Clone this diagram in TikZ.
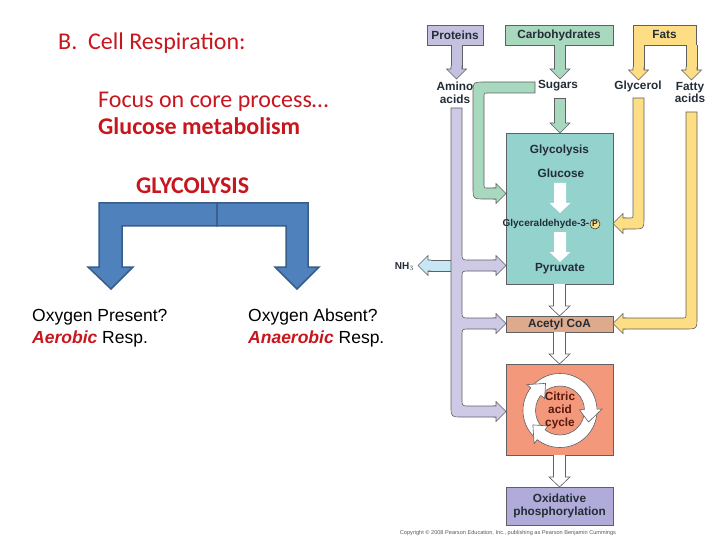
\documentclass[tikz,border=0pt]{standalone}
\usepackage{fontspec}
\setmainfont{Carlito}
\newfontfamily\arialf{Liberation Sans}
\usetikzlibrary{calc}
\definecolor{titlered}{RGB}{200,22,30}
\definecolor{bluefill}{RGB}{79,129,189}
\definecolor{blueline}{RGB}{56,93,138}
\definecolor{outlc}{RGB}{95,95,100}
\definecolor{labc}{RGB}{35,45,55}
\definecolor{purp}{RGB}{206,202,230}
\definecolor{protc}{RGB}{196,192,224}
\definecolor{grn}{RGB}{168,216,190}
\definecolor{yel}{RGB}{253,222,132}
\definecolor{tealc}{RGB}{148,210,206}
\definecolor{nhb}{RGB}{198,231,243}
\definecolor{tanc}{RGB}{222,170,140}
\definecolor{salm}{RGB}{243,152,122}
\definecolor{oxp}{RGB}{177,171,217}
\definecolor{cyctext}{RGB}{90,25,15}
\definecolor{pyel}{RGB}{247,224,138}
\newcommand\bhead[4]{%
  \begin{scope}[shift={(#1,#2)},rotate=#3]
    \fill[#4] (-13,-5.5)--(-10,-5.5)--(-10,-10)--(0,0)--(-10,10)--(-10,5.5)--(-13,5.5)--cycle;
    \draw[outl] (-13,-5.5)--(-10,-5.5)--(-10,-10)--(0,0)--(-10,10)--(-10,5.5)--(-13,5.5);
  \end{scope}}
\newcommand\warrow[4]{%
  \filldraw[#4] (#1-6,#2) -- (#1-6,#3-10) -- (#1-10.5,#3-10) -- (#1,#3) -- (#1+10.5,#3-10) -- (#1+6,#3-10) -- (#1+6,#2);}
\newcommand\chead[1]{%
  \fill[white] (#1:42) -- (#1+24:30.75) -- (#1:19.5) -- cycle;
  \draw[outl] (#1:37) -- (#1:42) -- (#1+24:30.75) -- (#1:19.5) -- (#1:24.5);}
\begin{document}
\begin{tikzpicture}[x=1pt,y=-1pt,
  outl/.style={draw=outlc,line width=0.6pt},
  lbl/.style={font=\arialf\bfseries\fontsize{11.8}{13}\selectfont,text=labc,inner sep=0pt,align=center},
  box/.style={draw=outlc,line width=0.6pt,inner sep=0pt},
  redtxt/.style={anchor=base west,inner sep=0pt,text=titlered,font=\fontsize{24}{28}\selectfont},
  oxtxt/.style={anchor=base west,inner sep=0pt,font=\arialf\fontsize{17.5}{20}\selectfont},
  bluearrow/.style={fill=bluefill,draw=blueline,line width=1.5pt,line join=miter}
]
\useasboundingbox (0,0) rectangle (720,540);

% ---------- left part ----------
\node[redtxt] (title) at (58,50) {B.\ \ Cell Respiration:};
\node[redtxt] (focus) at (98,108) {Focus on core process…};
\node[redtxt,font=\bfseries\fontsize{24}{28}\selectfont] (glucose) at (98,135) {Glucose metabolism};
\node[redtxt,font=\bfseries\fontsize{24}{28}\selectfont] (glyco) at (136,194) {GLYCOLYSIS};

\filldraw[bluearrow] (217,203) -- (99,203) -- (99,267) -- (88,267) -- (111,289) -- (133,267) -- (122,267) -- (122,226) -- (217,226) -- cycle;
\filldraw[bluearrow] (217,203) -- (308,203) -- (308,267) -- (319,267) -- (297,289) -- (275,267) -- (286,267) -- (286,226) -- (217,226) -- cycle;

\node[oxtxt] (opres) at (32,321) {Oxygen Present?};
\node[oxtxt] (aero) at (32,343) {\textcolor{titlered}{\bfseries\itshape Aerobic} Resp.};
\node[oxtxt] (oabs) at (248,321) {Oxygen Absent?};
\node[oxtxt] (anaero) at (248,343) {\textcolor{titlered}{\bfseries\itshape Anaerobic} Resp.};

% ---------- right part: boxes ----------
\node[box,lbl,fill=protc,minimum width=56pt,minimum height=20pt] (proteins) at (455,35) {Proteins};
\node[box,lbl,fill=grn,minimum width=108pt,minimum height=20pt] (carbs) at (559,35) {Carbohydrates};
\node[box,lbl,fill=yel,minimum width=63pt,minimum height=20pt] (fats) at (664.5,35) {Fats};

\node[box,fill=tealc,minimum width=107pt,minimum height=151pt] (glybox) at (559.5,208.5) {};
\node[box,lbl,fill=tanc,minimum width=107pt,minimum height=16pt] (acetyl) at (559.5,324) {Acetyl CoA};
\node[box,fill=salm,minimum width=107pt,minimum height=91pt] (citbox) at (559.5,409.5) {};
\node[box,lbl,fill=oxp,minimum width=107pt,minimum height=38pt] (oxph) at (559.5,506) {Oxidative\\phosphorylation};

\node[lbl] (amino) at (455,92.5) {Amino\\acids};
\node[lbl] (sugars) at (558,86) {Sugars};
\node[lbl] (glycerol) at (638,86) {Glycerol};
\node[lbl] (fatty) at (690,92.5) {Fatty\\acids};

\node[lbl] (glycolysis) at (559.5,150) {Glycolysis};
\node[lbl] (glucoseR) at (561,173) {Glucose};
\node[lbl,font=\arialf\bfseries\fontsize{10}{12}\selectfont,anchor=east] (g3p) at (589.5,224) {Glyceraldehyde-3-};
\node[circle,draw=labc,line width=0.5pt,fill=pyel,inner sep=0pt,minimum size=10pt,text=labc,font=\arialf\bfseries\fontsize{8.5}{9}\selectfont] (pcirc) at (595,224) {P};
\node[lbl] (pyruvate) at (560,269) {Pyruvate};

% ---------- arrows from top ----------
\filldraw[fill=protc,outl] (451,45) -- (451,68) -- (462,68) -- (462,45);
\bhead{456.5}{79}{-90}{protc}
\filldraw[fill=grn,outl] (554.5,45) -- (554.5,68) -- (565.5,68) -- (565.5,45);
\bhead{560}{79}{-90}{grn}
\filldraw[fill=yel,outl] (633,45) -- (633,69) -- (644,69) -- (644,45);
\bhead{638.5}{80}{-90}{yel}
\filldraw[fill=yel,outl] (686,45) -- (686,69) -- (697,69) -- (697,45);
\bhead{691.5}{80}{-90}{yel}

% sugars -> glycolysis
\filldraw[fill=grn,outl] (554.5,98) -- (554.5,124) -- (565.5,124) -- (565.5,98) -- cycle;
\bhead{560}{133}{-90}{grn}

% sugars bent arrow
\filldraw[fill=grn,outl] (535,82) -- (485,82) .. controls (473,82) .. (473,94) -- (473,187)
  .. controls (473,199) .. (485,199) -- (496,199) -- (496,188) -- (488,188)
  .. controls (484,188) .. (484,184) -- (484,97) .. controls (484,93) .. (488,93) -- (535,93) -- cycle;
\bhead{506}{193.5}{0}{grn}

% glycerol
\filldraw[fill=yel,outl] (633,98) -- (644,98) -- (644,217) .. controls (644,229) .. (632,229)
  -- (624,229) -- (624,218) -- (629,218) .. controls (633,218) .. (633,214) -- cycle;
\bhead{613}{223.5}{180}{yel}

% fatty acids
\filldraw[fill=yel,outl] (686,112) -- (697,112) -- (697,317) .. controls (697,329) .. (685,329)
  -- (624,329) -- (624,318) -- (682,318) .. controls (686,318) .. (686,314) -- cycle;
\bhead{613}{323.5}{180}{yel}

% NH3
\filldraw[fill=nhb,outl] (451,260) -- (427,260) -- (427,271) -- (451,271) -- cycle;
\bhead{418}{265.5}{180}{nhb}
\node[lbl,font=\arialf\bfseries\fontsize{10}{11}\selectfont,anchor=east] (nh3) at (414,266.5) {NH$_3$};

% amino acids trunk
\filldraw[fill=purp,outl] (451,108) -- (462,108) -- (462,253) .. controls (462,260) .. (469,260)
  -- (496,260) -- (496,271) -- (469,271) .. controls (462,271) .. (462,278)
  -- (462,311) .. controls (462,318) .. (469,318) -- (496,318) -- (496,329) -- (469,329)
  .. controls (462,329) .. (462,336) -- (462,399) .. controls (462,406) .. (469,406)
  -- (496,406) -- (496,417) -- (462,417) .. controls (451,417) .. (451,406) -- cycle;
\bhead{506}{265.5}{0}{purp}
\bhead{506}{323.5}{0}{purp}
\bhead{506}{411.5}{0}{purp}

% white arrows
\warrow{560}{183}{213}{fill=white,draw=none}
\warrow{560}{232}{262}{fill=white,draw=none}
\warrow{559.5}{284}{316}{fill=white,outl}
\warrow{559.5}{332}{364}{fill=white,outl}
\warrow{559.5}{455}{487}{fill=white,outl}

% citric acid cycle ring
\begin{scope}[shift={(560,410.5)}]
  \fill[white,even odd rule] (0,0) circle[radius=37] (0,0) circle[radius=24.5];
  \draw[outl] (0,0) circle[radius=37];
  \draw[outl] (0,0) circle[radius=24.5];
  \chead{218}
  \chead{358}
  \chead{128}
\end{scope}
\node[lbl,text=cyctext] (cycle) at (560,410) {Citric\\acid\\cycle};

\node[inner sep=0pt,text=black!65,font=\arialf\fontsize{5.6}{6}\selectfont] (copy) at (508,533)
  {Copyright © 2008 Pearson Education, Inc., publishing as Pearson Benjamin Cummings};
\end{tikzpicture}
\end{document}
